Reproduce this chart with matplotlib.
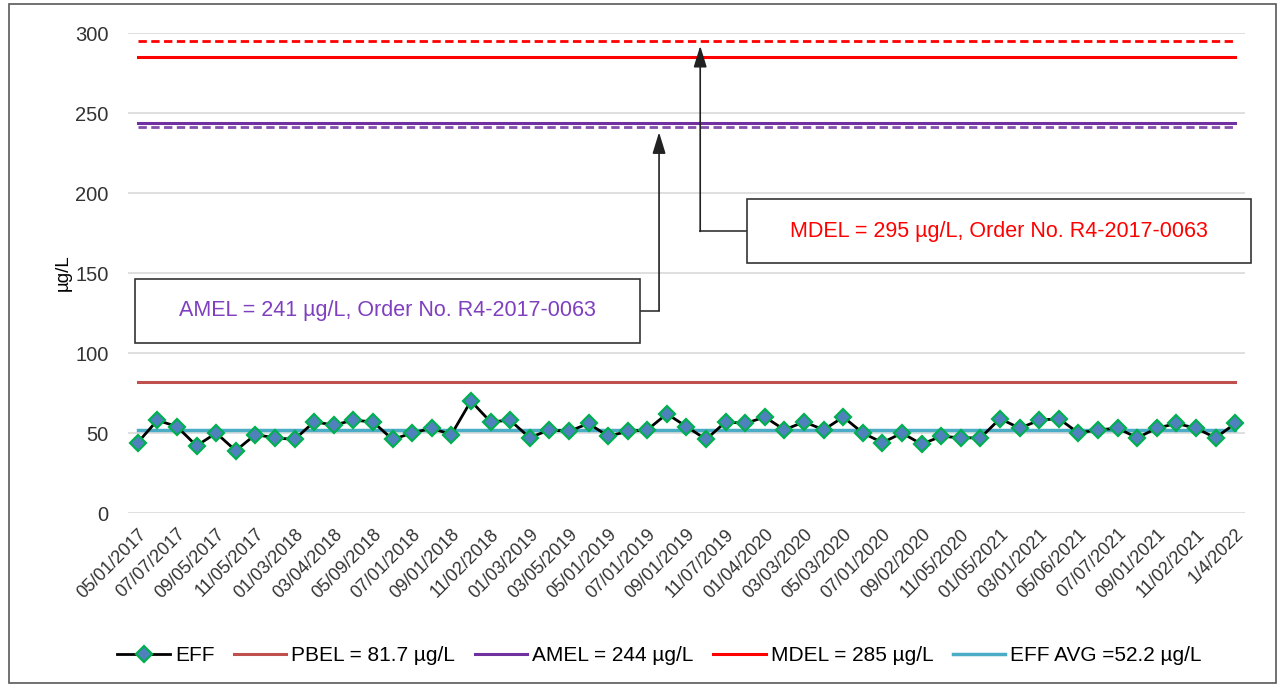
import numpy as np
import matplotlib.pyplot as plt
from matplotlib.patches import Rectangle

plt.rcParams["font.family"] = ["Liberation Sans", "DejaVu Sans"]

# EFF results, one per sampling event (57 events, every other one labelled)
EFF = [44, 58, 54, 42, 50, 39, 49, 47, 46, 57,
       55, 58, 57, 46, 50, 53, 49, 70, 57, 58,
       47, 52, 51, 56, 48, 51, 52, 62, 54, 46,
       57, 56, 60, 52, 57, 52, 60, 50, 44, 50,
       43, 48, 47, 47, 59, 53, 58, 59, 50, 52,
       53, 47, 53, 56, 53, 47, 56]

TICK_LABELS = ["05/01/2017", "07/07/2017", "09/05/2017", "11/05/2017",
               "01/03/2018", "03/04/2018", "05/09/2018", "07/01/2018",
               "09/01/2018", "11/02/2018", "01/03/2019", "03/05/2019",
               "05/01/2019", "07/01/2019", "09/01/2019", "11/07/2019",
               "01/04/2020", "03/03/2020", "05/03/2020", "07/01/2020",
               "09/02/2020", "11/05/2020", "01/05/2021", "03/01/2021",
               "05/06/2021", "07/07/2021", "09/01/2021", "11/02/2021",
               "1/4/2022"]

PBEL = 81.7
AMEL = 244
MDEL = 285
EFF_AVG = 52.2
AMEL_ORDER = 241
MDEL_ORDER = 295

C_PBEL = "#C0504D"
C_AMEL = "#7030A0"
C_MDEL = "#FF0000"
C_AVG = "#4BACC6"

SALIDA = "out.png"


def main():
    fig = plt.figure(figsize=(12.81, 6.89), dpi=100)
    ax = fig.add_axes([0.0999, 0.2554, 0.8720, 0.6967])

    x = np.arange(len(EFF))
    ones = np.ones(len(EFF))

    ax.plot(x, EFF, color="black", lw=2, marker="D", ms=8.5,
            mfc="#4F81BD", mec="#00B050", mew=1.6, zorder=4, label="EFF")
    ax.plot(x, ones * PBEL, color=C_PBEL, lw=2.2, zorder=3,
            label=f"PBEL = {PBEL} µg/L")
    ax.plot(x, ones * AMEL, color=C_AMEL, lw=2.2, zorder=3,
            label=f"AMEL = {AMEL} µg/L")
    ax.plot(x, ones * MDEL, color=C_MDEL, lw=2.2, zorder=3,
            label=f"MDEL = {MDEL} µg/L")
    ax.plot(x, ones * EFF_AVG, color=C_AVG, lw=2.5, zorder=3,
            label=f"EFF AVG ={EFF_AVG} µg/L")
    ax.plot(x, ones * AMEL_ORDER, color=C_AMEL, lw=2, ls=(0, (3, 1.6)),
            zorder=3, alpha=0.85)
    ax.plot(x, ones * MDEL_ORDER, color=C_MDEL, lw=2, ls=(0, (3, 1.6)),
            zorder=3)

    ax.set_xlim(-0.5, len(EFF) - 0.5)
    ax.set_ylim(0, 300)
    ax.set_yticks(np.arange(0, 301, 50))
    ax.set_xticks(x[::2])
    ax.set_xticklabels(TICK_LABELS, rotation=45, ha="right",
                       rotation_mode="anchor", fontsize=13)
    ax.tick_params(axis="both", length=0, colors="#333333")
    ax.tick_params(axis="y", labelsize=14.5, pad=14)
    ax.tick_params(axis="x", pad=9)
    ax.grid(axis="y", color="#D9D9D9", lw=1.2)
    ax.set_axisbelow(True)
    for s in ax.spines.values():
        s.set_visible(False)
    ax.set_ylabel("µg/L", fontsize=13.5, labelpad=2)

    # annotation boxes with elbow arrows
    ax.add_patch(Rectangle((31.1, 156), 25.7, 40, facecolor="white",
                           edgecolor="#333333", lw=1.2, zorder=6,
                           clip_on=False))
    ax.text(31.1 + 25.7 / 2, 176, f"MDEL = {MDEL_ORDER} µg/L, Order No. R4-2017-0063",
            color=C_MDEL, fontsize=15.5, ha="center", va="center", zorder=7)
    ax.plot([28.7, 31.1], [176, 176], color="#333333", lw=1.2, zorder=5)
    ax.annotate("", xy=(28.7, 292), xytext=(28.7, 176),
                arrowprops=dict(arrowstyle="-|>,head_length=1.3,head_width=0.4",
                                color="#222222", lw=1.2, shrinkA=0, shrinkB=0),
                zorder=5)

    ax.add_patch(Rectangle((-0.15, 106.5), 25.8, 39.5, facecolor="white",
                           edgecolor="#333333", lw=1.2, zorder=6,
                           clip_on=False))
    ax.text(-0.15 + 25.8 / 2, 126.5, f"AMEL = {AMEL_ORDER} µg/L, Order No. R4-2017-0063",
            color="#7F3FBF", fontsize=15.5, ha="center", va="center", zorder=7)
    ax.plot([25.65, 26.6], [126.5, 126.5], color="#333333", lw=1.2, zorder=5)
    ax.annotate("", xy=(26.6, 238), xytext=(26.6, 126.5),
                arrowprops=dict(arrowstyle="-|>,head_length=1.3,head_width=0.4",
                                color="#222222", lw=1.2, shrinkA=0, shrinkB=0),
                zorder=5)

    fig.legend(*ax.get_legend_handles_labels(), loc="center",
               bbox_to_anchor=(0.515, 0.048), ncol=5, frameon=False,
               fontsize=15, handlelength=2.5, columnspacing=0.95,
               handletextpad=0.25)

    fig.patches.append(Rectangle((9 / 1281, 6 / 689), 1267 / 1281, 679 / 689,
                                 transform=fig.transFigure, fill=False,
                                 edgecolor="#595959", lw=1.2))

    fig.savefig(SALIDA, dpi=100)
    plt.close(fig)


if __name__ == "__main__":
    main()
